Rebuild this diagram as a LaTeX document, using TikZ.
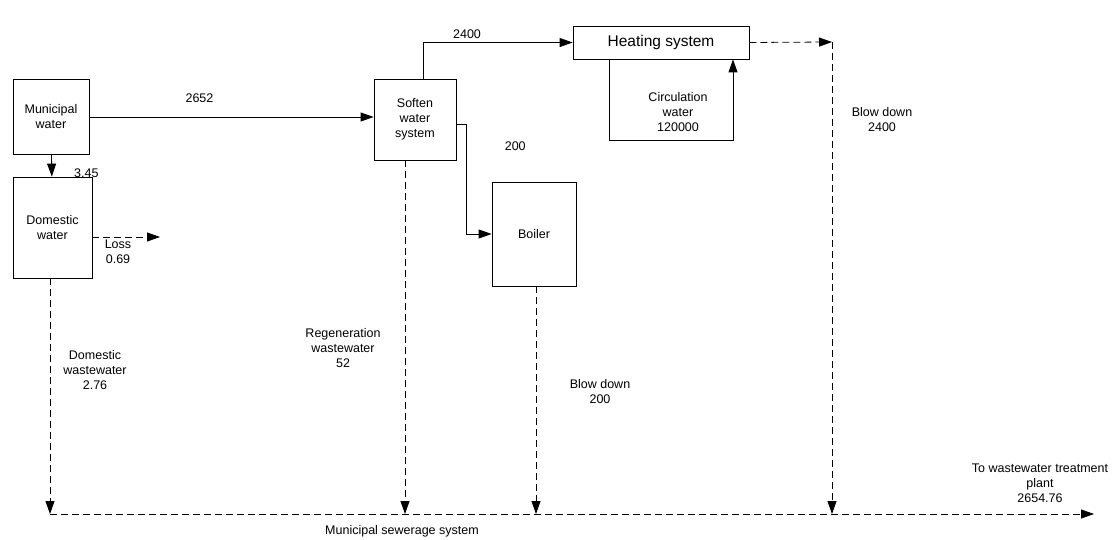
\documentclass[tikz,border=0pt]{standalone}
\usepackage{fontspec}
\setmainfont{Liberation Sans}
\usetikzlibrary{arrows.meta, positioning}

\begin{document}
\begin{tikzpicture}[x=1pt, y=-1pt,
			unit/.style={draw, thick, rectangle, align=center, font=\fontsize{12.5}{15}\selectfont, inner sep=0pt},
			flow/.style={thick, black, -{Triangle[length=13pt,width=9pt]}},
			waste/.style={flow, dash pattern=on 7pt off 4pt},
			note/.style={align=center, font=\fontsize{12.5}{15}\selectfont, inner sep=0pt}
			]
			\useasboundingbox (0,0) rectangle (1114,540);
			\node [unit, minimum width=76pt, minimum height=75pt](muni) at (51,117) {Municipal\\water};
			\node [unit, minimum width=79pt, minimum height=101pt](dom) at (52.5,227.5) {Domestic\\water};
			\node [unit, minimum width=82pt, minimum height=81pt](soft) at (415,119.5) {Soften\\water\\system};
			\node [unit, minimum width=176pt, minimum height=33pt, font=\fontsize{15.5}{18}\selectfont](heat) at (661,42.5) {Heating system};
			\node [unit, minimum width=84pt, minimum height=104pt](boil) at (534,234) {Boiler};
			\coordinate (loss) at (160,237);
			\coordinate (bd) at (832,42);
			\coordinate (rg) at ([xshift=-10pt]soft.south);
			\coordinate (bb) at ([xshift=2pt]boil.south);
			\coordinate (sw0) at (50,514);
			\coordinate (sw1) at (1094,514);
			
			\draw[flow] (muni) -- (dom) node[note, pos=0.85, right=22pt] {3.45};
			\draw[flow] (muni.east) -- (muni.east -| soft.west) node[note, midway, above=14pt, xshift=-32pt] {2652};
			\draw[flow] ([xshift=8pt]soft.north) |- (heat.west) node[note, pos=0.25, above=22pt, xshift=44pt] {2400};
			\draw[flow] ([yshift=-4.5pt]soft.east) -- ++(10,0) |- (boil.west) node[note, pos=0.1, right=38pt] {200};
			\draw[flow] ([xshift=-52pt]heat.south) -- ++(0,81) -| ([xshift=72pt]heat.south);
			\node[note] (circ) at (678,112) {Circulation\\water\\120000};
			\draw[waste] (dom.east |- loss) -- (loss);
			\node[note] (lossl) at (118,252) {Loss\\0.69};
			
			\draw[waste] (heat.east) -- (bd);
			\draw[waste] (bd) -- (bd |- sw0);
			\draw[waste] ([xshift=-2.5pt]dom.south) -- (sw0);
			\draw[waste] (rg) -- (rg |- sw0);
			\draw[waste] (bb) -- (bb |- sw0);
			\draw[waste] (sw0) -- (sw1);
			
			\node[note] (dwl) at (95,370) {Domestic\\wastewater\\2.76};
			\node[note] (rgl) at (343,348) {Regeneration\\wastewater\\52};
			\node[note] (bbl) at (600,392) {Blow down\\200};
			\node[note] (hbl) at (882,120) {Blow down\\2400};
			\node[note] (msl) at (402,531) {Municipal sewerage system};
			\node[note] (wtl) at (1040,483) {To wastewater treatment\\plant\\2654.76};
		\end{tikzpicture}
\end{document}
